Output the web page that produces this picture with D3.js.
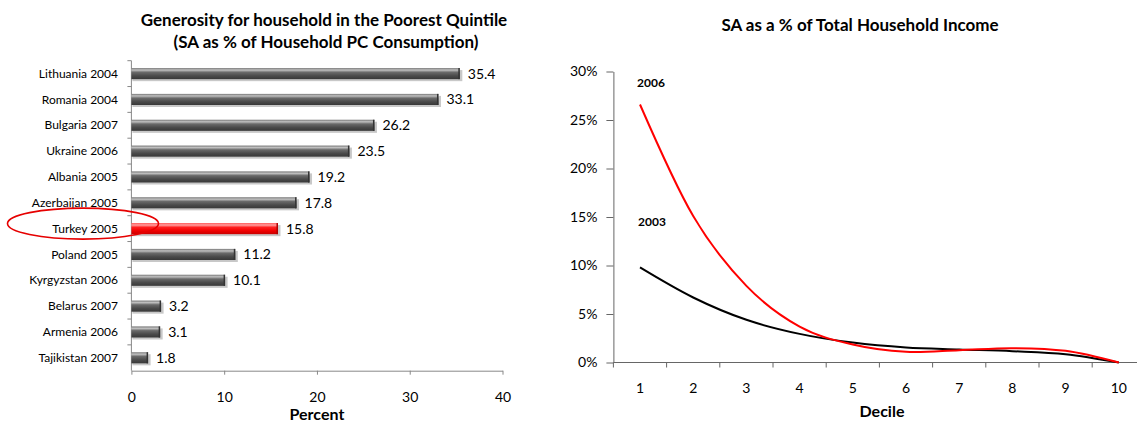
<!DOCTYPE html>
<html>
<head>
<meta charset="utf-8">
<script src="https://cdn.jsdelivr.net/npm/d3@7"></script>
<style>
  body { margin: 0; background: #fff; }
  text { font-family: Lato, "Open Sans", sans-serif; fill: #000; }
</style>
</head>
<body>
<div id="chart"></div>
<script>
// ---- data ----
const countries = ["Lithuania 2004", "Romania 2004", "Bulgaria 2007", "Ukraine 2006", "Albania 2005",
    "Azerbaijan 2005", "Turkey 2005", "Poland 2005", "Kyrgyzstan 2006", "Belarus 2007", "Armenia 2006", "Tajikistan 2007"];
const generosity = [35.4, 33.1, 26.2, 23.5, 19.2, 17.8, 15.8, 11.2, 10.1, 3.2, 3.1, 1.8];
const highlighted = "Turkey 2005";
const percentTicks = [0, 10, 20, 30, 40];

const deciles = [1, 2, 3, 4, 5, 6, 7, 8, 9, 10];
const sa2003 = [9.8, 6.7, 4.4, 2.95, 2.05, 1.55, 1.35, 1.17, 0.86, 0];
const sa2006 = [26.6, 15.1, 7.9, 3.7, 1.85, 1.1, 1.27, 1.48, 1.2, 0];
const shareTicks = [0, 5, 10, 15, 20, 25, 30];

const W = 1137, H = 424;

const svg = d3.select("#chart").append("svg")
    .attr("width", W)
    .attr("height", H);

const defs = svg.append("defs");

function barGradient(id, stops) {
    let g = defs.append("linearGradient")
        .attr("id", id)
        .attr("x1", 0).attr("y1", 0).attr("x2", 0).attr("y2", 1);
    stops.forEach(s => g.append("stop").attr("offset", s[0]).attr("stop-color", s[1]));
}
barGradient("grayBar", [[0, "#767676"], [0.18, "#c0c0c0"], [0.38, "#6a6a6a"], [0.7, "#4a4a4a"], [1, "#383838"]]);
barGradient("redBar", [[0, "#ff5050"], [0.18, "#ffa0a0"], [0.38, "#ff2020"], [0.7, "#f00000"], [1, "#c80000"]]);

// ================= left: horizontal bars =================
let xL = d3.scaleLinear().domain([0, 40]).range([131.4, 502.5]);
let yL = d3.scaleBand().domain(countries).range([60.7, 370.7])
    .paddingInner(0.57).paddingOuter(0.285);

let left = svg.append("g");

// title
left.append("text")
    .attr("x", 324).attr("y", 26)
    .attr("text-anchor", "middle")
    .attr("font-size", 17).attr("font-weight", "bold")
    .text("Generosity for household in  the Poorest Quintile");
left.append("text")
    .attr("x", 326).attr("y", 48)
    .attr("text-anchor", "middle")
    .attr("font-size", 17).attr("font-weight", "bold")
    .text("(SA as % of Household PC Consumption)");

// x axis
let axL = left.append("g")
    .attr("transform", `translate(0,${yL.range()[1]})`)
    .call(d3.axisBottom(xL).tickValues(percentTicks).tickSize(4).tickSizeOuter(0).tickPadding(17));
axL.select(".domain").attr("stroke", "#888");
axL.selectAll(".tick line").attr("stroke", "#888");
axL.selectAll(".tick text").attr("font-size", 14).attr("font-family", "Lato");

left.append("text")
    .attr("x", (xL.range()[0] + xL.range()[1]) / 2).attr("y", 420)
    .attr("text-anchor", "middle")
    .attr("font-size", 16).attr("font-weight", "bold")
    .text("Percent");

// y axis line + ticks between categories
left.append("line")
    .attr("x1", xL(0)).attr("x2", xL(0))
    .attr("y1", yL.range()[0]).attr("y2", yL.range()[1])
    .attr("stroke", "#888");
let half = yL.step() * yL.paddingInner() / 2;
left.selectAll(".cat-tick")
    .data(countries)
    .enter().append("line")
    .attr("class", "cat-tick")
    .attr("x1", xL(0) - 4).attr("x2", xL(0))
    .attr("y1", d => yL(d) - half).attr("y2", d => yL(d) - half)
    .attr("stroke", "#888");

left.selectAll(".cat-label")
    .data(countries)
    .enter().append("text")
    .attr("class", "cat-label")
    .attr("x", 118)
    .attr("y", d => yL(d) + yL.bandwidth() / 2)
    .attr("dy", "0.35em")
    .attr("text-anchor", "end")
    .attr("font-size", 12)
    .text(d => d);

let bars = countries.map((c, i) => ({name: c, value: generosity[i]}));

// shadows
left.selectAll(".shadow")
    .data(bars)
    .enter().append("rect")
    .attr("class", "shadow")
    .attr("x", xL(0) + 1)
    .attr("y", d => yL(d.name) + 2)
    .attr("width", d => xL(d.value) - xL(0) + 1.5)
    .attr("height", yL.bandwidth())
    .attr("fill", "#c8c8c8");

left.selectAll(".bar")
    .data(bars)
    .enter().append("rect")
    .attr("class", "bar")
    .attr("x", xL(0))
    .attr("y", d => yL(d.name))
    .attr("width", d => xL(d.value) - xL(0))
    .attr("height", yL.bandwidth())
    .attr("fill", d => d.name === highlighted ? "url(#redBar)" : "url(#grayBar)");

// darker bevel at bar end
left.selectAll(".bar-end")
    .data(bars)
    .enter().append("rect")
    .attr("class", "bar-end")
    .attr("x", d => xL(d.value) - 1.5)
    .attr("y", d => yL(d.name))
    .attr("width", 1.5)
    .attr("height", yL.bandwidth())
    .attr("fill", d => d.name === highlighted ? "#b00000" : "#333");

left.selectAll(".value")
    .data(bars)
    .enter().append("text")
    .attr("class", "value")
    .attr("x", d => xL(d.value) + 8)
    .attr("y", d => yL(d.name) + yL.bandwidth() / 2)
    .attr("dy", "0.36em")
    .attr("font-size", 14)
    .text(d => d3.format(".1f")(d.value));

// red ellipse round the highlighted label
left.append("ellipse")
    .attr("cx", 83)
    .attr("cy", yL(highlighted) + yL.bandwidth() / 2 - 5)
    .attr("rx", 75.5).attr("ry", 15.5)
    .attr("fill", "none")
    .attr("stroke", "#e60000")
    .attr("stroke-width", 1.6);

// ================= right: smoothed lines =================
let xR = d3.scaleBand().domain(deciles).range([613.4, 1145.4]);
let yR = d3.scaleLinear().domain([0, 30]).range([362.5, 71.5]);

let right = svg.append("g");

right.append("text")
    .attr("x", 860).attr("y", 31)
    .attr("text-anchor", "middle")
    .attr("font-size", 17).attr("font-weight", "bold")
    .text("SA as a % of Total Household Income");

let axY = right.append("g")
    .attr("transform", `translate(${xR.range()[0]},0)`)
    .call(d3.axisLeft(yR).tickValues(shareTicks).tickFormat(d => d + "%")
        .tickSize(7).tickSizeOuter(0).tickPadding(9));
axY.select(".domain").attr("stroke", "#666");
axY.selectAll(".tick line").attr("stroke", "#666");
axY.selectAll(".tick text").attr("font-size", 14).attr("font-family", "Lato");

// x axis: line, ticks at category edges, labels at centres
right.append("line")
    .attr("x1", xR.range()[0]).attr("x2", xR.range()[1])
    .attr("y1", yR(0)).attr("y2", yR(0))
    .attr("stroke", "#666");
right.selectAll(".dec-tick")
    .data(deciles)
    .enter().append("line")
    .attr("class", "dec-tick")
    .attr("x1", d => xR(d)).attr("x2", d => xR(d))
    .attr("y1", yR(0)).attr("y2", yR(0) + 5)
    .attr("stroke", "#666");
let axX = right.append("g")
    .attr("transform", `translate(0,${yR(0)})`)
    .call(d3.axisBottom(xR).tickSize(0).tickPadding(21));
axX.select(".domain").remove();
axX.selectAll(".tick text").attr("font-size", 14).attr("font-family", "Lato");

right.append("text")
    .attr("x", 882).attr("y", 417)
    .attr("text-anchor", "middle")
    .attr("font-size", 16).attr("font-weight", "bold")
    .text("Decile");

let line = d3.line()
    .x(d => xR(d[0]) + xR.bandwidth() / 2)
    .y(d => yR(d[1]))
    .curve(d3.curveCatmullRom.alpha(0));

right.append("path")
    .datum(deciles.map((d, i) => [d, sa2003[i]]))
    .attr("fill", "none")
    .attr("stroke", "#000")
    .attr("stroke-width", 2)
    .attr("d", line);

right.append("path")
    .datum(deciles.map((d, i) => [d, sa2006[i]]))
    .attr("fill", "none")
    .attr("stroke", "#ff0000")
    .attr("stroke-width", 2)
    .attr("d", line);

right.append("text")
    .attr("x", 637).attr("y", 87)
    .attr("font-family", "Liberation Sans, Arial, sans-serif")
    .attr("font-size", 12).attr("font-weight", "bold")
    .text("2006");
right.append("text")
    .attr("x", 638).attr("y", 226)
    .attr("font-family", "Liberation Sans, Arial, sans-serif")
    .attr("font-size", 12).attr("font-weight", "bold")
    .text("2003");
</script>
</body>
</html>
